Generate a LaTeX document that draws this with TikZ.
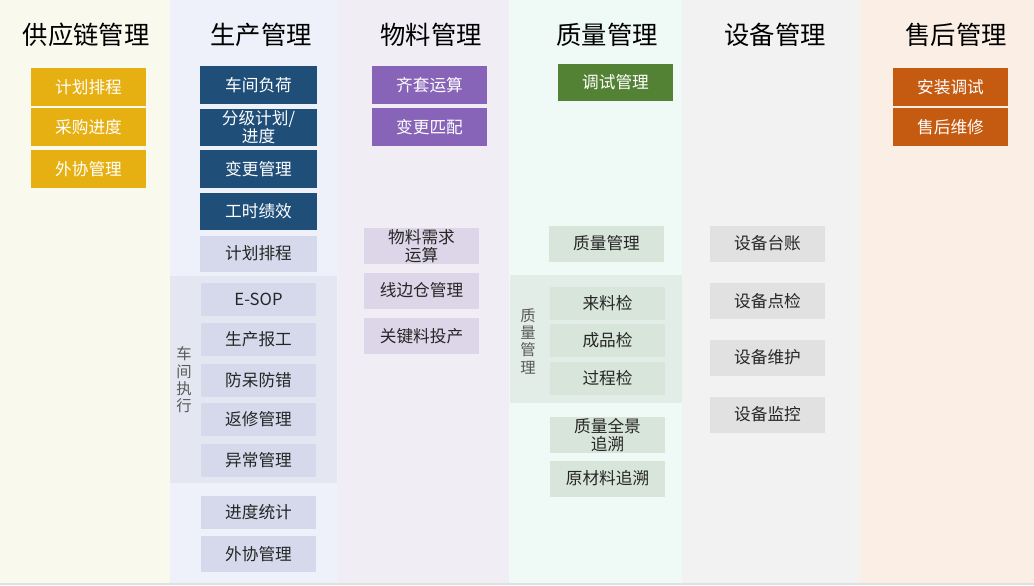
\documentclass[tikz,border=0pt]{standalone}
\usepackage{fontspec}
\setmainfont{Noto Sans CJK SC}
\usepackage{tikz}
\definecolor{bgsupply}{HTML}{F9F9EE}
\definecolor{bgprod}{HTML}{EEF1F9}
\definecolor{bgmat}{HTML}{F1EDF5}
\definecolor{bgqual}{HTML}{EFF9F5}
\definecolor{bgequip}{HTML}{F2F2F2}
\definecolor{bgafter}{HTML}{FBEEE5}
\definecolor{bandprod}{HTML}{E4E7F1}
\definecolor{bandqual}{HTML}{E1EDE6}
\definecolor{cyellow}{HTML}{E6B012}
\definecolor{cblue}{HTML}{1F4E79}
\definecolor{cpurple}{HTML}{8764B8}
\definecolor{cgreen}{HTML}{548235}
\definecolor{corange}{HTML}{C55A11}
\definecolor{lblue}{HTML}{D5D9EB}
\definecolor{lpurple}{HTML}{DDD6E8}
\definecolor{lgreen}{HTML}{D8E5DA}
\definecolor{lgray}{HTML}{E1E1E1}
\tikzstyle{titel}=[inner sep=0pt,font=\fontsize{19}{22}\selectfont]
\tikzstyle{karte}=[inner sep=0pt,minimum width=86.25pt,align=center,font=\fontsize{12.5}{13.5}\selectfont]
\tikzstyle{hell}=[karte,text=black!85,minimum height=27pt]
\tikzstyle{dunkel}=[karte,text=white,minimum height=28pt]
\tikzstyle{seitlich}=[inner sep=0pt,align=center,text=black!65,font=\fontsize{11.5}{13}\selectfont]

\begin{document}
\begin{tikzpicture}[x=0.75pt,y=-0.75pt]
    \useasboundingbox (0,0) rectangle (1034,585);
    % columns
    \fill [bgsupply] (0,0) rectangle (170,585);
    \fill [bgprod] (170,0) rectangle (338,585);
    \fill [bgmat] (338,0) rectangle (509,585);
    \fill [bgqual] (509,0) rectangle (682,585);
    \fill [bgequip] (682,0) rectangle (861,585);
    \fill [bgafter] (861,0) rectangle (1034,585);
    \fill [bandprod] (170,276) rectangle (337,483);
    \fill [bandqual] (510,275) rectangle (682,403);
    \fill [black!12] (0,583) rectangle (1034,585);
    % titles
    \node [titel] (t1) at (86,35) {供应链管理};
    \node [titel] (t2) at (261,35) {生产管理};
    \node [titel] (t3) at (431,35) {物料管理};
    \node [titel] (t4) at (607,35) {质量管理};
    \node [titel] (t5) at (775,35) {设备管理};
    \node [titel] (t6) at (956,35) {售后管理};
    % supply chain
    \node [dunkel,fill=cyellow] (s1) at (88.5,87) {计划排程};
    \node [dunkel,fill=cyellow] (s2) at (88.5,127) {采购进度};
    \node [dunkel,fill=cyellow] (s3) at (88.5,169) {外协管理};
    % production
    \node [dunkel,fill=cblue,minimum width=87.75pt] (p1) at (258.5,85) {车间负荷};
    \node [dunkel,fill=cblue,minimum width=87.75pt] (p2) at (258.5,127.5) {分级计划/\\进度};
    \node [dunkel,fill=cblue,minimum width=87.75pt] (p3) at (258.5,169) {变更管理};
    \node [dunkel,fill=cblue,minimum width=87.75pt] (p4) at (258.5,211.5) {工时绩效};
    \node [hell,fill=lblue,minimum width=87.75pt] (p5) at (258.5,253.5) {计划排程};
    \node [hell,fill=lblue,minimum height=24.75pt] (p6) at (258.5,299) {E-SOP};
    \node [hell,fill=lblue,minimum height=24.75pt] (p7) at (258.5,339.5) {生产报工};
    \node [hell,fill=lblue,minimum height=24.75pt] (p8) at (258.5,380.5) {防呆防错};
    \node [hell,fill=lblue,minimum height=24.75pt] (p9) at (258.5,419.5) {返修管理};
    \node [hell,fill=lblue,minimum height=24.75pt] (p10) at (258.5,460.5) {异常管理};
    \node [hell,fill=lblue,minimum height=24.75pt] (p11) at (258.5,512.5) {进度统计};
    \node [hell,fill=lblue] (p12) at (258.5,554) {外协管理};
    \node [seitlich] (pl) at (184,380) {车\\间\\执\\行};
    % material
    \node [dunkel,fill=cpurple] (m1) at (429.5,85) {齐套运算};
    \node [dunkel,fill=cpurple] (m2) at (429.5,127) {变更匹配};
    \node [hell,fill=lpurple] (m3) at (421.5,246) {物料需求\\运算};
    \node [hell,fill=lpurple] (m4) at (421.5,290.5) {线边仓管理};
    \node [hell,fill=lpurple] (m5) at (421.5,336) {关键料投产};
    % quality
    \node [dunkel,fill=cgreen] (q1) at (615.5,82.5) {调试管理};
    \node [hell,fill=lgreen] (q2) at (606.5,243.5) {质量管理};
    \node [hell,fill=lgreen,minimum height=24.75pt] (q3) at (607.5,303.5) {来料检};
    \node [hell,fill=lgreen,minimum height=24.75pt] (q4) at (607.5,340.5) {成品检};
    \node [hell,fill=lgreen,minimum height=24.75pt] (q5) at (607.5,378) {过程检};
    \node [hell,fill=lgreen] (q6) at (607.5,435) {质量全景\\追溯};
    \node [hell,fill=lgreen] (q7) at (607.5,478.5) {原材料追溯};
    \node [seitlich] (ql) at (528,341) {质\\量\\管\\理};
    % equipment
    \node [hell,fill=lgray] (e1) at (767.5,243.5) {设备台账};
    \node [hell,fill=lgray] (e2) at (767.5,301) {设备点检};
    \node [hell,fill=lgray] (e3) at (767.5,357.5) {设备维护};
    \node [hell,fill=lgray] (e4) at (767.5,414.5) {设备监控};
    % after sales
    \node [dunkel,fill=corange] (a1) at (950.5,87) {安装调试};
    \node [dunkel,fill=corange] (a2) at (950.5,127) {售后维修};
\end{tikzpicture}
\end{document}
